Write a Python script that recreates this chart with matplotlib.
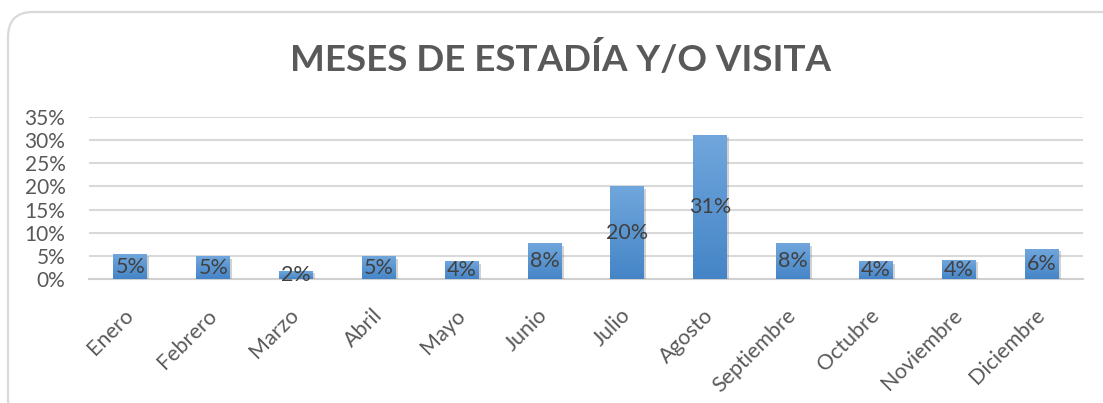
import numpy as np
import matplotlib
matplotlib.use('Agg')
import matplotlib.pyplot as plt
import matplotlib.patheffects as pe
from matplotlib.colors import LinearSegmentedColormap
from matplotlib.patches import FancyBboxPatch
from matplotlib.ticker import PercentFormatter

meses = ['Enero', 'Febrero', 'Marzo', 'Abril', 'Mayo', 'Junio', 'Julio',
         'Agosto', 'Septiembre', 'Octubre', 'Noviembre', 'Diciembre']
valores = [0.054, 0.048, 0.017, 0.048, 0.037, 0.076, 0.199,
           0.311, 0.076, 0.037, 0.041, 0.064]
yticks = [0, 0.05, 0.10, 0.15, 0.20, 0.25, 0.30, 0.35]

plt.rcParams['font.family'] = ['Lato', 'DejaVu Sans']

fig = plt.figure(figsize=(11.03, 4.03), dpi=100)
ax = fig.add_axes([89/1103, 1 - 279/403, (1083 - 89)/1103, (279 - 117)/403])

# rounded chart frame
frame = FancyBboxPatch((0.08, -0.2), 11.3, 4.03 - 0.12 + 0.2,
                       boxstyle='round,pad=0,rounding_size=0.25',
                       transform=fig.dpi_scale_trans, fill=False,
                       edgecolor='#d9d9d9', linewidth=1.6)
fig.add_artist(frame)

x = np.arange(len(meses))
bars = ax.bar(x, valores, width=0.41, color='#5b9bd5', zorder=3,
              path_effects=[pe.SimplePatchShadow(offset=(1.5, -1.5), shadow_rgbFace='#808080', alpha=0.35),
                            pe.Normal()])

# vertical gradient on each bar
cmap = LinearSegmentedColormap.from_list('azul', ['#4585c7', '#70a6dc'])
grad = np.linspace(0, 1, 100).reshape(-1, 1)
for b in bars:
    x0, y0 = b.get_x(), b.get_y()
    ax.imshow(grad, extent=[x0, x0 + b.get_width(), y0, y0 + b.get_height()],
              origin='lower', aspect='auto', cmap=cmap, zorder=4)

for xi, v in zip(x, valores):
    ax.text(xi, v / 2, f'{v:.0%}', ha='center', va='center',
            fontsize=15.5, color='#404040', zorder=5)

ax.set_xlim(-0.5, len(meses) - 0.5)
ax.set_ylim(0, 0.35)
ax.set_yticks(yticks)
ax.yaxis.set_major_formatter(PercentFormatter(1.0, decimals=0))
ax.set_xticks(x)
ax.set_xticklabels(meses, rotation=45, ha='right', va='center', rotation_mode='anchor')
ax.tick_params(axis='both', length=0, labelsize=15, labelcolor='#595959')
ax.tick_params(axis='x', labelsize=15.5, pad=24)
ax.tick_params(axis='y', pad=17)
ax.grid(axis='y', color='#d9d9d9', linewidth=1.5, zorder=0)
ax.set_axisbelow(True)
for s in ['top', 'right', 'left']:
    ax.spines[s].set_visible(False)
ax.spines['bottom'].set_color('#d0d0d0')
ax.spines['bottom'].set_linewidth(1.5)

fig.text(561/1103, 1 - 59/403, 'MESES DE ESTADÍA Y/O VISITA', ha='center', va='center',
         fontsize=26.5, fontweight='bold', color='#595959')

fig.savefig('out.png', dpi=100)
